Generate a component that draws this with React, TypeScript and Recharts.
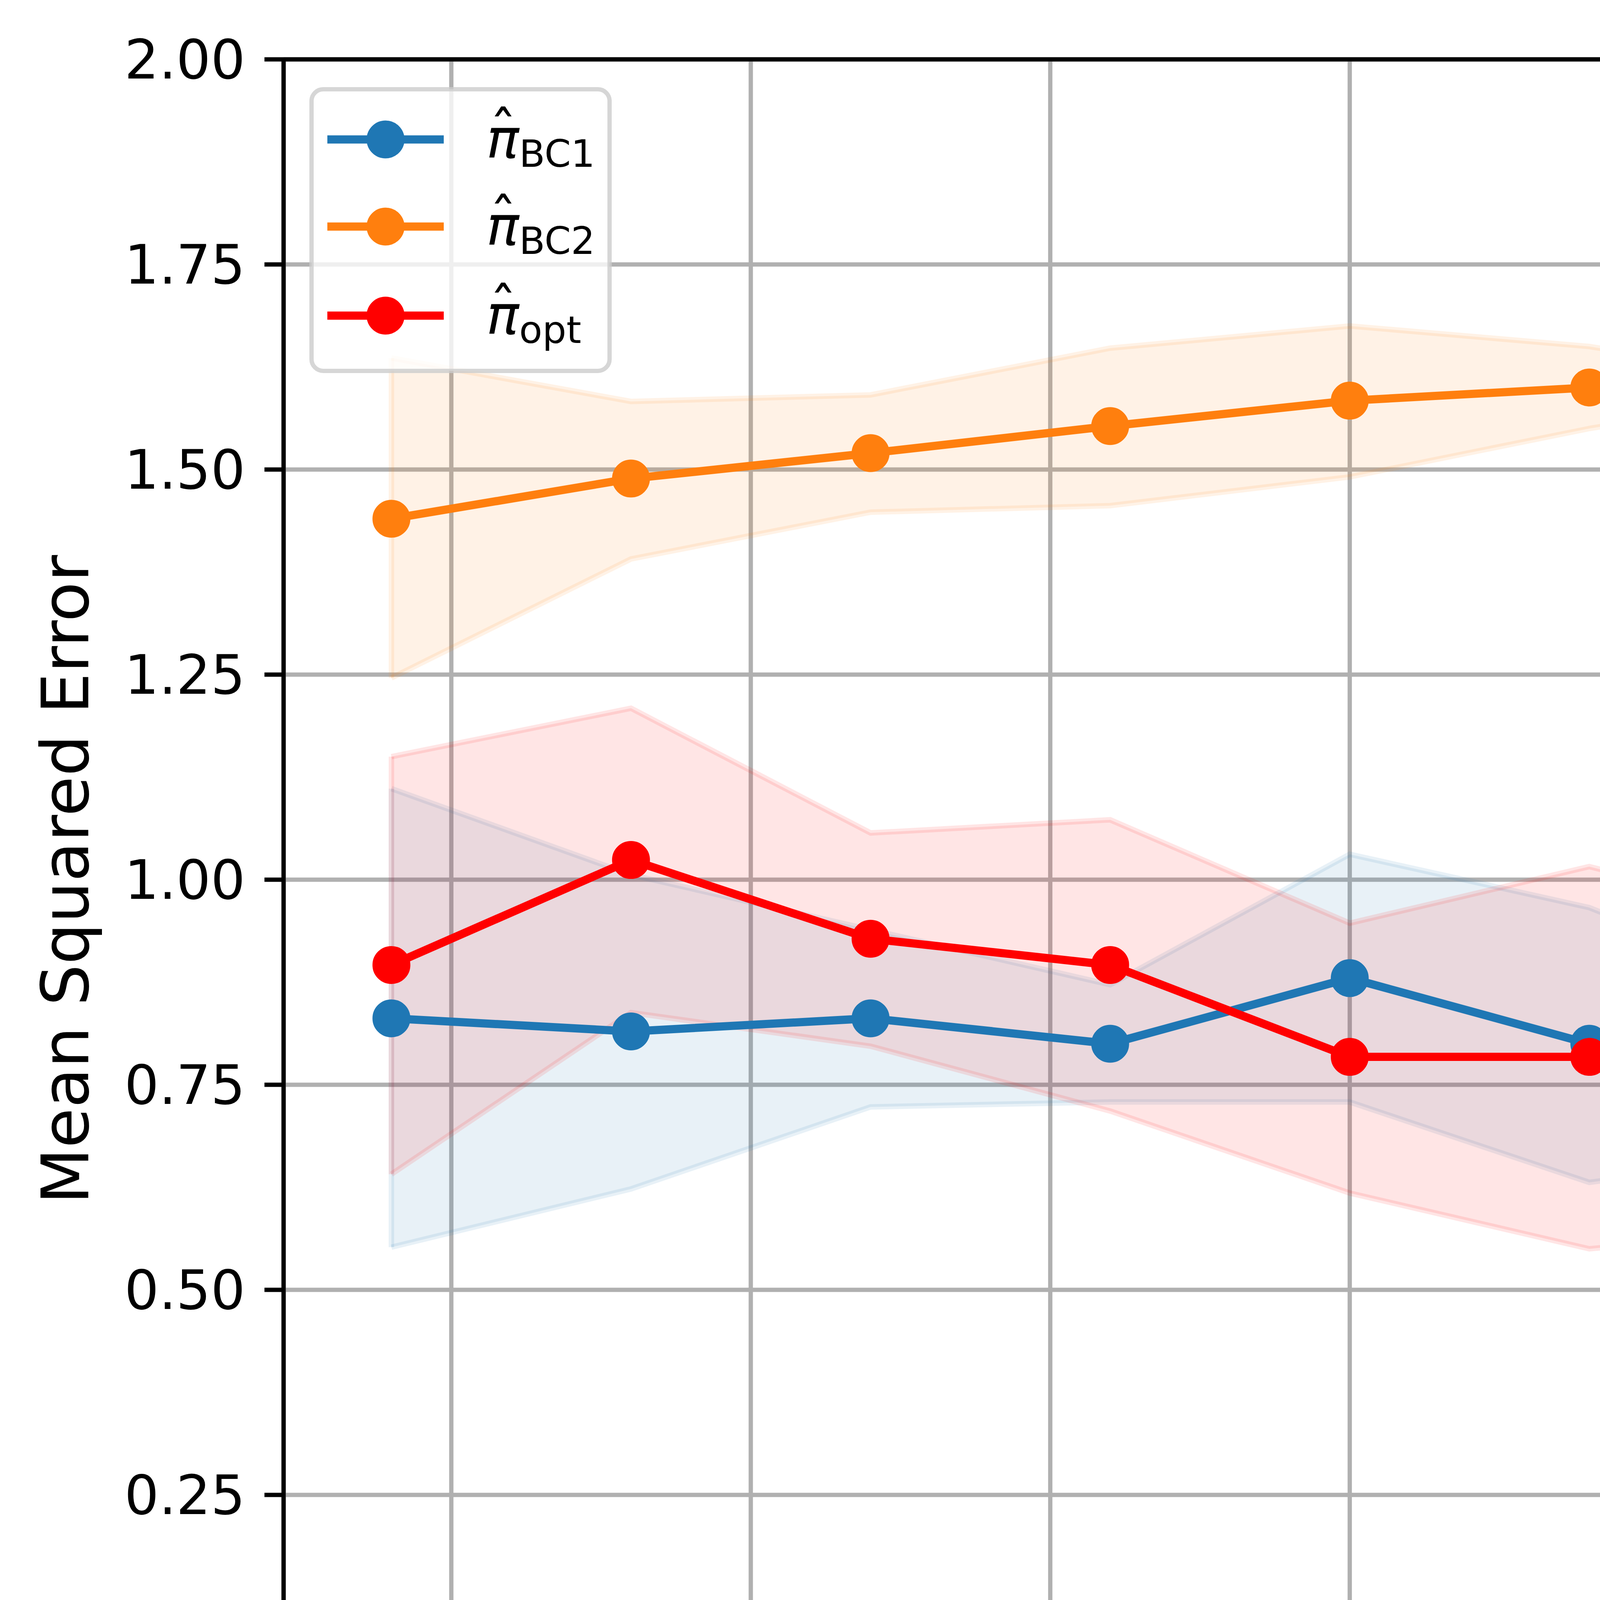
import React from 'react';
import {
  ComposedChart,
  Line,
  Area,
  XAxis,
  YAxis,
  CartesianGrid,
  Legend,
  ReferenceLine,
} from 'recharts';

// training set sizes
const samples = [400, 800, 1200, 1600, 2000, 2400, 2800, 3200, 3600, 4000];

// pi_BC1
const bc1Mean = [0.831, 0.815, 0.831, 0.8, 0.88, 0.8, 0.761, 0.827, 0.8, 0.8];
const bc1Low = [0.552, 0.623, 0.723, 0.729, 0.729, 0.631, 0.67, 0.726, 0.8, 0.8];
const bc1High = [1.111, 1.006, 0.939, 0.872, 1.031, 0.966, 0.849, 0.924, 0.8, 0.8];

// pi_BC2
const bc2Mean = [1.44, 1.489, 1.52, 1.553, 1.584, 1.6, 1.6, 1.627, 1.64, 1.68];
const bc2Low = [1.246, 1.391, 1.448, 1.456, 1.491, 1.55, 1.597, 1.589, 1.6, 1.68];
const bc2High = [1.636, 1.583, 1.591, 1.648, 1.675, 1.65, 1.603, 1.663, 1.68, 1.68];

// pi_opt
const optMean = [0.896, 1.024, 0.928, 0.896, 0.784, 0.784, 0.76, 0.906, 0.88, 0.8];
const optLow = [0.641, 0.838, 0.797, 0.718, 0.618, 0.55, 0.577, 0.677, 0.88, 0.8];
const optHigh = [1.15, 1.209, 1.057, 1.073, 0.947, 1.016, 0.942, 1.135, 0.88, 0.8];

const xTicks = [500, 1000, 1500, 2000, 2500, 3000, 3500, 4000];
const yTicks = [0, 0.25, 0.5, 0.75, 1, 1.25, 1.5, 1.75, 2];

const series = [
  { key: 'bc1', sub: 'BC1', color: '#1f77b4', mean: bc1Mean, low: bc1Low, high: bc1High },
  { key: 'bc2', sub: 'BC2', color: '#ff7f0e', mean: bc2Mean, low: bc2Low, high: bc2High },
  { key: 'opt', sub: 'opt', color: '#ff0000', mean: optMean, low: optLow, high: optHigh },
];

const data = samples.map((s, i) => {
  const row: Record<string, any> = { samples: s };
  series.forEach((sr) => {
    row[sr.key] = sr.mean[i];
    row[sr.key + 'Band'] = [sr.low[i], sr.high[i]];
  });
  return row;
});

const W = 6899;
const H = 4900;
const FONT = '"DejaVu Sans", sans-serif';
const tickFont = { fill: '#000', fontSize: 139, fontFamily: FONT };

// legend box geometry
const LEG_W = 774;
const LEG_H = 732;
const rowY = [134, 357, 585];

function LegendBox() {
  return (
    <div style={{ width: LEG_W, height: LEG_H }}>
      <svg width={LEG_W} height={LEG_H}>
        <rect
          x={5.5}
          y={5.5}
          width={LEG_W - 11}
          height={LEG_H - 11}
          rx={30}
          fill="#ffffff"
          fillOpacity={0.8}
          stroke="#cccccc"
          strokeOpacity={0.8}
          strokeWidth={11}
        />
        {series.map((sr, i) => (
          <g key={sr.key}>
            <line x1={46} x2={344} y1={rowY[i]} y2={rowY[i]} stroke={sr.color} strokeWidth={21} />
            <circle cx={195} cy={rowY[i]} r={41.5} fill={sr.color} stroke={sr.color} strokeWidth={14} />
            <text
              x={453}
              y={rowY[i] + 47}
              fontFamily={FONT}
              fontStyle="italic"
              fontSize={139}
              fill="#000"
            >
              π
            </text>
            <text
              x={496}
              y={rowY[i] + 27}
              fontFamily={FONT}
              fontSize={139}
              textAnchor="middle"
              fill="#000"
            >
              ˆ
            </text>
            <text x={537} y={rowY[i] + 70} fontFamily={FONT} fontSize={97} fill="#000">
              {sr.sub}
            </text>
          </g>
        ))}
      </svg>
    </div>
  );
}

const first = 0;
const last = samples.length - 1;

export default function App() {
  return (
    <div style={{ position: 'absolute', left: 0, top: 0, width: W, height: H, background: '#fff' }}>
      <ComposedChart
        width={W}
        height={H}
        data={data}
        margin={{ top: 152, right: 101, bottom: 128, left: 166 }}
      >
        <CartesianGrid stroke="#b0b0b0" strokeWidth={11} />
        <XAxis
          dataKey="samples"
          type="number"
          domain={[220, 4180]}
          ticks={xTicks}
          allowDataOverflow
          height={420}
          tick={tickFont}
          tickSize={49}
          tickMargin={49}
          tickLine={{ stroke: '#000', strokeWidth: 11 }}
          axisLine={{ stroke: '#000', strokeWidth: 11 }}
          label={{
            value: 'Training Samples',
            position: 'insideBottom',
            offset: 8,
            style: { fill: '#000', fontSize: 167, fontFamily: FONT },
          }}
        />
        <YAxis
          type="number"
          domain={[0, 2]}
          ticks={yTicks}
          allowDataOverflow
          width={560}
          tick={tickFont}
          tickSize={49}
          tickMargin={49}
          tickFormatter={(v: number) => v.toFixed(2)}
          tickLine={{ stroke: '#000', strokeWidth: 11 }}
          axisLine={{ stroke: '#000', strokeWidth: 11 }}
          label={{
            value: 'Mean Squared Error',
            position: 'insideLeft',
            angle: -90,
            offset: 1,
            style: { fill: '#000', fontSize: 167, fontFamily: FONT, textAnchor: 'middle' },
          }}
        />
        {series.map((sr) => (
          <Area
            key={sr.key + 'Band'}
            type="linear"
            dataKey={sr.key + 'Band'}
            fill={sr.color}
            fillOpacity={0.1}
            stroke={sr.color}
            strokeOpacity={0.1}
            strokeWidth={14}
            dot={false}
            activeDot={false}
            isAnimationActive={false}
            legendType="none"
          />
        ))}
        {/* closing edges of the shaded bands at both ends */}
        {series.flatMap((sr) =>
          [first, last].map((idx) => (
            <ReferenceLine
              key={sr.key + 'Edge' + idx}
              segment={[
                { x: samples[idx], y: sr.low[idx] },
                { x: samples[idx], y: sr.high[idx] },
              ]}
              stroke={sr.color}
              strokeOpacity={0.1}
              strokeWidth={14}
            />
          ))
        )}
        {series.map((sr) => (
          <Line
            key={sr.key}
            type="linear"
            dataKey={sr.key}
            stroke={sr.color}
            strokeWidth={21}
            dot={{ r: 41.5, fill: sr.color, stroke: sr.color, strokeWidth: 14 }}
            activeDot={false}
            isAnimationActive={false}
          />
        ))}
        <ReferenceLine y={2} stroke="#000" strokeWidth={11} />
        <ReferenceLine x={4180} stroke="#000" strokeWidth={11} />
        <Legend
          layout="vertical"
          align="center"
          verticalAlign="middle"
          wrapperStyle={{ left: 792, top: 223, width: LEG_W, height: LEG_H }}
          content={() => <LegendBox />}
        />
      </ComposedChart>
    </div>
  );
}
